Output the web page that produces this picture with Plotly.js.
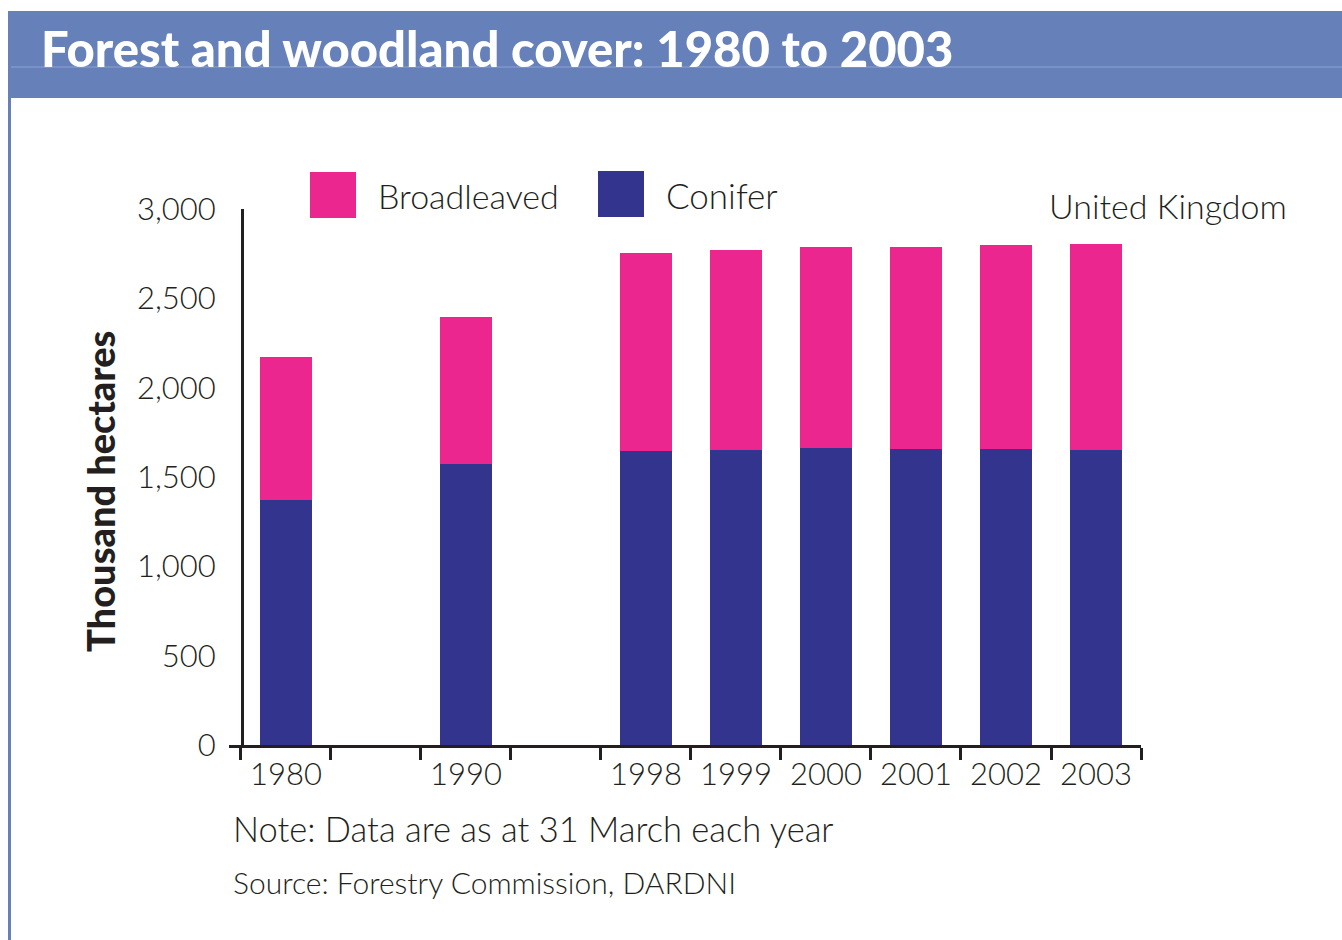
<!DOCTYPE html>
<html>
<head>
<meta charset="utf-8">
<script src="https://cdn.plot.ly/plotly-3.0.1.min.js"></script>
<style>html,body{margin:0;padding:0;background:#fff;}#chart{width:1342px;height:940px;}</style>
</head>
<body>
<div id="chart"></div>
<script>
// Categories (two blank slots keep the gaps in the time axis)
const categories = ['1980', 'gapA', '1990', 'gapB', '1998', '1999', '2000', '2001', '2002', '2003'];
const tickLabels = ['1980', '', '1990', '', '1998', '1999', '2000', '2001', '2002', '2003'];
const years = ['1980', '1990', '1998', '1999', '2000', '2001', '2002', '2003'];
// Thousand hectares
const conifer = [1371, 1573, 1647, 1651, 1662, 1657, 1657, 1651];
const broadleaved = [801, 823, 1107, 1120, 1125, 1130, 1142, 1153];

const PINK = '#EC268F';
const NAVY = '#33348E';
const HEAD = '#6680BA';
const INK = '#231F20';
const FONT = 'Lato, "Open Sans", sans-serif';

// pixel helpers for paper-referenced decorations
const W = 1342, H = 940, ML = 229, MR = 201, MT = 209, MB = 195;
const PW = W - ML - MR, PH = H - MT - MB;
const px = x => (x - ML) / PW;
const py = y => (H - MB - y) / PH;

const traces = [
  {type: 'bar', name: 'Conifer', x: years, y: conifer, marker: {color: NAVY, line: {width: 0}}, width: 0.57, hoverinfo: 'x+y+name'},
  {type: 'bar', name: 'Broadleaved', x: years, y: broadleaved, marker: {color: PINK, line: {width: 0}}, width: 0.57, hoverinfo: 'x+y+name'}
];

const layout = {
  width: W, height: H,
  margin: {l: ML, r: MR, t: MT, b: MB, pad: 0},
  paper_bgcolor: '#fff', plot_bgcolor: '#fff',
  barmode: 'stack',
  showlegend: false,
  font: {family: FONT, color: INK, size: 30, weight: 300},
  title: {
    text: 'Forest and woodland cover: 1980 to 2003',
    font: {family: FONT, size: 49, color: '#fff', weight: 900},
    xref: 'container', x: 41 / W, xanchor: 'left',
    yref: 'container', y: 1 - 50 / H, yanchor: 'middle'
  },
  xaxis: {
    type: 'category', categoryorder: 'array', categoryarray: categories,
    tickvals: categories, ticktext: tickLabels,
    range: [-0.633, 9.5],
    tickson: 'boundaries', ticks: 'outside', ticklen: 12, tickwidth: 3, tickcolor: INK,
    showline: true, linewidth: 3, linecolor: INK,
    showgrid: false, zeroline: false, fixedrange: true,
    tickfont: {family: FONT, size: 31, color: INK, weight: 300},
    ticklabelstandoff: 0
  },
  yaxis: {
    range: [0, 3000], dtick: 500, tickformat: ',',
    anchor: 'free', position: px(242),
    showline: true, linewidth: 3, linecolor: INK,
    ticks: '', showgrid: false, zeroline: false, fixedrange: true,
    tickfont: {family: FONT, size: 31, color: INK, weight: 300},
    ticklabelstandoff: 19
  },
  shapes: [
    {type: 'rect', xref: 'paper', yref: 'paper', x0: px(8), x1: px(1342), y0: py(98), y1: py(11), fillcolor: HEAD, line: {width: 0}, layer: 'below'},
    {type: 'line', xref: 'paper', yref: 'paper', x0: px(11), x1: px(1342), y0: py(67), y1: py(67), line: {color: '#8FA2D0', width: 1}},
    {type: 'rect', xref: 'paper', yref: 'paper', x0: px(8), x1: px(11), y0: py(940), y1: py(98), fillcolor: HEAD, line: {width: 0}},
    {type: 'rect', xref: 'paper', yref: 'paper', x0: px(310), x1: px(356), y0: py(218), y1: py(172), fillcolor: PINK, line: {width: 0}},
    {type: 'rect', xref: 'paper', yref: 'paper', x0: px(598), x1: px(644), y0: py(217), y1: py(171), fillcolor: NAVY, line: {width: 0}}
  ],
  annotations: [
    {text: 'Broadleaved', xref: 'paper', yref: 'paper', x: px(376), y: py(195), xanchor: 'left', yanchor: 'middle', showarrow: false, font: {family: FONT, size: 34, color: INK, weight: 300}},
    {text: 'Conifer', xref: 'paper', yref: 'paper', x: px(664), y: py(195), xanchor: 'left', yanchor: 'middle', showarrow: false, font: {family: FONT, size: 35, color: INK, weight: 300}},
    {text: 'United Kingdom', xref: 'paper', yref: 'paper', x: px(1289), y: py(206), xanchor: 'right', yanchor: 'middle', showarrow: false, font: {family: FONT, size: 34, color: INK, weight: 300}},
    {text: 'Thousand hectares', xref: 'paper', yref: 'paper', x: px(100), y: py(492), xanchor: 'center', yanchor: 'middle', textangle: -90, showarrow: false, font: {family: FONT, size: 38, color: INK, weight: 900}},
    {text: 'Note: Data are as at 31 March each year', xref: 'paper', yref: 'paper', x: px(231), y: py(828), xanchor: 'left', yanchor: 'middle', showarrow: false, font: {family: FONT, size: 34.5, color: INK, weight: 300}},
    {text: 'Source: Forestry Commission, DARDNI', xref: 'paper', yref: 'paper', x: px(231), y: py(882), xanchor: 'left', yanchor: 'middle', showarrow: false, font: {family: FONT, size: 30, color: INK, weight: 300}}
  ]
};

Plotly.newPlot('chart', traces, layout, {displayModeBar: false, staticPlot: true});
</script>
</body>
</html>
